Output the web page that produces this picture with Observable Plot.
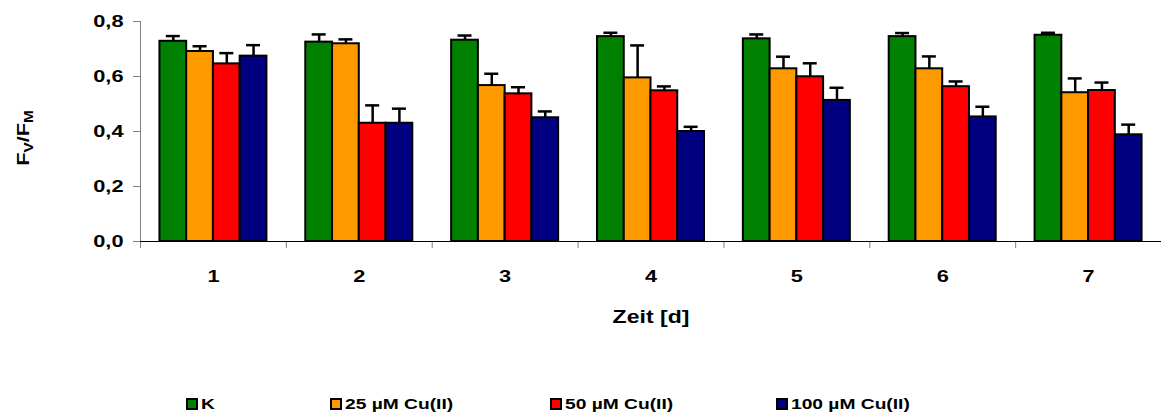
<!DOCTYPE html>
<html><head><meta charset="utf-8">
<script src="https://cdn.jsdelivr.net/npm/d3@7"></script>
<script src="https://cdn.jsdelivr.net/npm/@observablehq/plot@0.6"></script>
<style>
body{margin:0;background:#fff;font-family:"Liberation Sans",Arial,sans-serif;}
#chart{position:relative;width:1161px;height:390px;}
#legend{position:relative;height:27px;width:1161px;font-weight:bold;font-size:15px;color:#000;}
.item{position:absolute;top:5px;display:flex;align-items:center;white-space:nowrap;}
.sw{width:12px;height:12px;border:2px solid #000;margin-right:3px;box-sizing:border-box;}
.lbl{display:inline-block;transform:scaleX(1.28);transform-origin:left center;}
</style></head><body><div id="chart"></div><div id="legend"></div>
<script>
const days = [1, 2, 3, 4, 5, 6, 7];
const series = ["K", "25 µM Cu(II)", "50 µM Cu(II)", "100 µM Cu(II)"];
const colors = ["#008000", "#FF9900", "#FF0000", "#000080"];
const valK   = [0.728, 0.725, 0.732, 0.745, 0.737, 0.745, 0.750];
const errK   = [0.019, 0.028, 0.017, 0.014, 0.016, 0.013, 0.009];
const val25  = [0.691, 0.719, 0.567, 0.595, 0.628, 0.628, 0.541];
const err25  = [0.019, 0.016, 0.043, 0.118, 0.044, 0.045, 0.052];
const val50  = [0.646, 0.430, 0.537, 0.548, 0.599, 0.563, 0.549];
const err50  = [0.039, 0.065, 0.024, 0.016, 0.049, 0.019, 0.029];
const val100 = [0.674, 0.430, 0.450, 0.400, 0.513, 0.453, 0.388];
const err100 = [0.040, 0.053, 0.023, 0.017, 0.046, 0.037, 0.037];
const yTicks = [0, 0.2, 0.4, 0.6, 0.8];
const xLabel = "Zeit [d]";

const values = [valK, val25, val50, val100];
const errors = [errK, err25, err50, err100];

// grouped bar geometry in day units
const barW = 0.1834;
const pad = (1 - series.length * barW) / 2;
const capHalf = 0.048;

const rows = [];
series.forEach((s, i) => {
  days.forEach((d, j) => {
    const x1 = d - 0.5 + pad + i * barW;
    rows.push({day: d, series: s, v: values[i][j], e: errors[i][j], x1, x2: x1 + barW, xc: x1 + barW / 2});
  });
});
const bounds = d3.range(0, days.length + 1).map(k => days[0] - 0.5 + k);

const W = 1161, H = 390;
const plot = Plot.plot({
  width: W, height: H,
  marginLeft: 140, marginRight: 0, marginTop: 21, marginBottom: H - 241,
  style: {fontFamily: "'Liberation Sans', Arial, sans-serif", fontSize: "17px", fontWeight: "bold", color: "#000", background: "#fff"},
  x: {domain: [days[0] - 0.5, days[days.length - 1] + 0.5]},
  y: {domain: [0, 0.8]},
  color: {domain: series, range: colors},
  marks: [
    Plot.axisY(yTicks, {tickSize: 7, tickPadding: 10, tickFormat: d => d.toFixed(1).replace(".", ","), stroke: "#808080", label: null, fontWeight: "bold", fontSize: 17}),
    Plot.axisX(bounds, {tickSize: 7, tickFormat: () => "", stroke: "#808080", label: null}),
    Plot.axisX(days, {tickSize: 0, tickPadding: 28, tickFormat: d => String(d), label: null, fontWeight: "bold", fontSize: 17}),
    Plot.ruleX([bounds[0]], {y1: 0, y2: 0.8, stroke: "#808080"}),
    Plot.rectY(rows, {x1: "x1", x2: "x2", y1: 0, y2: "v", fill: "series", stroke: "#000", strokeWidth: 2}),
    Plot.ruleY([0], {stroke: "#000"}),
    Plot.ruleX(rows, {x: "xc", y1: "v", y2: d => d.v + d.e, stroke: "#000", strokeWidth: 2.5}),
    Plot.ruleY(rows, {y: d => d.v + d.e, x1: d => d.xc - capHalf, x2: d => d.xc + capHalf, stroke: "#000", strokeWidth: 2.5}),
    Plot.text([xLabel], {text: d => d, frameAnchor: "bottom", dy: 81, fontWeight: "bold", fontSize: 18})
  ]
});
document.getElementById("chart").appendChild(plot);

// y-axis title with subscripts
const yS = plot.scale("y");
const yMid = (yS.apply(0) + yS.apply(0.8)) / 2 + 7;
const t = d3.select(plot).append("text")
  .attr("transform", `translate(29,${yMid}) rotate(-90)`)
  .attr("text-anchor", "middle")
  .attr("font-weight", "bold").attr("font-size", 17).attr("fill", "#000");
t.append("tspan").text("F");
t.append("tspan").attr("font-size", 12).attr("dy", 4).text("V");
t.append("tspan").attr("dy", -4).text("/F");
t.append("tspan").attr("font-size", 12).attr("dy", 4).text("M");

// widen the bold type like the original rendering
plot.querySelectorAll("text").forEach(el => {
  const len = el.getComputedTextLength();
  if (len > 0) {
    el.setAttribute("textLength", (len * 1.28).toFixed(1));
    el.setAttribute("lengthAdjust", "spacingAndGlyphs");
  }
});

// legend
const legendX = [186, 330, 550, 776];
const lg = d3.select("#legend");
series.forEach((s, i) => {
  const it = lg.append("div").attr("class", "item").style("left", legendX[i] + "px");
  it.append("div").attr("class", "sw").style("background", colors[i]);
  it.append("span").attr("class", "lbl").text(s);
});
</script></body></html>
